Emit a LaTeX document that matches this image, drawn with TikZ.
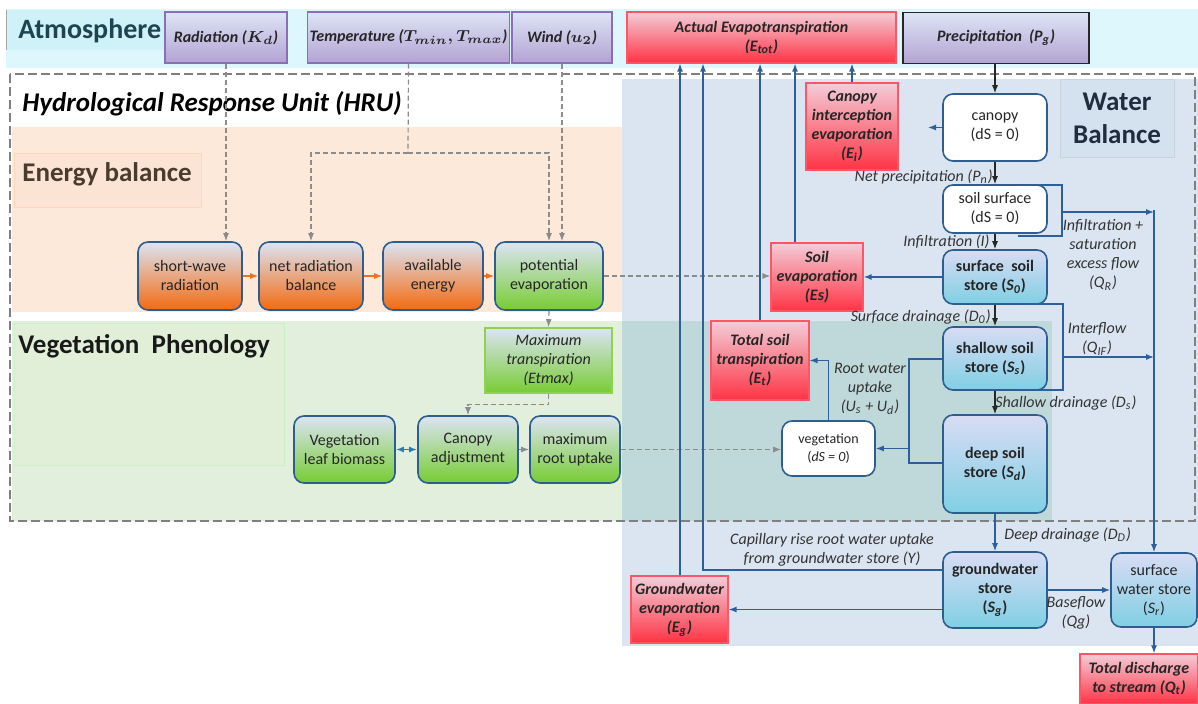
\documentclass[tikz,border=0pt]{standalone}
\usepackage{amsmath}
\usepackage{fontspec}
\setmainfont{Carlito}
\usetikzlibrary{arrows.meta}

\definecolor{bandcyan}{HTML}{DDF7FC}
\definecolor{atmlab}{HTML}{CFF2F8}
\definecolor{wbblue}{HTML}{DAE5F1}
\definecolor{wblab}{HTML}{D4E1EE}
\definecolor{orangebg}{HTML}{FDE9D9}
\definecolor{enlab}{HTML}{FCE4D5}
\definecolor{greenbg}{HTML}{E3EFDD}
\definecolor{tealbg}{HTML}{BFD8DA}
\definecolor{veglab}{HTML}{E1EFD8}
\definecolor{hrugray}{HTML}{808080}
\definecolor{atmtop}{HTML}{DDE4F6}
\definecolor{atmbot}{HTML}{B3A3D3}
\definecolor{atmline}{HTML}{8B6FB5}
\definecolor{redtop}{HTML}{F3CDD8}
\definecolor{redbot}{HTML}{FF3344}
\definecolor{redline}{HTML}{FF5566}
\definecolor{boxline}{HTML}{2E5E8E}
\definecolor{bluetop}{HTML}{DCE4F4}
\definecolor{orangebot}{HTML}{F36A10}
\definecolor{greenbot}{HTML}{77CC33}
\definecolor{greenline}{HTML}{92D050}
\definecolor{storetop}{HTML}{D8DCF4}
\definecolor{storebot}{HTML}{80CFE4}
\definecolor{flowblue}{HTML}{2F5F9A}
\definecolor{dashgray}{HTML}{8C8C8C}
\definecolor{enarrow}{HTML}{F07020}
\definecolor{textdark}{HTML}{262626}
\definecolor{labelgray}{HTML}{333333}
\definecolor{atmtext}{HTML}{1D4450}
\definecolor{entext}{HTML}{4A3C2C}
\definecolor{wbtext}{HTML}{1F2D3D}

\tikzset{
  box/.style={rectangle, inner sep=1pt, align=center, text=textdark,
    font=\fontsize{8}{9.5}\selectfont},
  atmbox/.style={box, draw=atmline, line width=0.6pt, top color=atmtop,
    bottom color=atmbot, minimum height=25.5pt,
    font=\fontsize{8}{9.5}\selectfont\bfseries\itshape},
  outbox/.style={box, draw=redline, line width=0.6pt, top color=redtop,
    bottom color=redbot, font=\fontsize{8}{9.5}\selectfont\bfseries\itshape},
  enbox/.style={box, draw=boxline, line width=0.8pt, rounded corners=5pt,
    top color=bluetop, bottom color=orangebot, minimum width=52pt,
    minimum height=34pt},
  phenobox/.style={enbox, top color=bluetop, bottom color=greenbot,
    minimum height=33.5pt},
  storebox/.style={box, draw=boxline, line width=0.8pt, rounded corners=5pt,
    top color=storetop, bottom color=storebot, minimum width=52pt,
    font=\fontsize{8}{9.5}\selectfont\bfseries},
  nullbox/.style={box, draw=boxline, line width=0.8pt, rounded corners=5pt,
    fill=white, minimum width=52pt},
  title/.style={anchor=west, inner sep=0pt, font=\fontsize{13.5}{16.5}\selectfont\bfseries},
  flowlabel/.style={inner sep=0pt, align=center, text=labelgray,
    font=\fontsize{8}{9.5}\selectfont\itshape},
  line/.style={draw=flowblue, line width=0.65pt},
  flow/.style={line, -{Latex[length=4pt,width=3pt]}},
  downflow/.style={draw=black!85, line width=0.6pt, -{Latex[length=4pt,width=3pt]}},
  dashline/.style={draw=dashgray, line width=0.6pt, dash pattern=on 2.5pt off 1.5pt},
  dashflow/.style={dashline, -{Latex[length=4pt,width=3pt]}},
  enflow/.style={draw=enarrow, line width=0.7pt, -{Latex[length=4pt,width=3pt]}},
  bothflow/.style={draw=flowblue!80!cyan, line width=0.8pt, {Latex[length=4pt,width=3pt]}-{Latex[length=4pt,width=3pt]}}
}

\begin{document}
\begin{tikzpicture}[x=0.5pt, y=-0.5pt]
  \useasboundingbox (0,0) rectangle (1198,704);
  % background panels
  \fill[bandcyan] (6,9) rectangle (1198,68);
  \fill[atmlab] (6,10) rectangle (164,50);
  \draw[black!35, line width=0.3pt] (6,10) -- (6,50);
  \fill[wbblue] (622,79) rectangle (1198,646);
  \fill[orangebg] (12,127) rectangle (622,312);
  \filldraw[fill=enlab, draw=orangebg!85!orange, line width=0.3pt] (14,153) rectangle (201,207);
  \fill[greenbg] (12,321) rectangle (622,521);
  \fill[tealbg] (622,321) rectangle (1052,521);
  \filldraw[fill=veglab, draw=greenbg!90!green, line width=0.3pt] (14,323) rectangle (284,465);
  \filldraw[fill=wblab, draw=wbblue!92!black, line width=0.3pt] (1060,79) rectangle (1174,157);
  \draw[hrugray, line width=1.2pt, dash pattern=on 4.5pt off 2pt] (10,74) rectangle (1195,521);

  % titles
  \node[title, font=\fontsize{14}{16.5}\selectfont\bfseries, text=atmtext] (tatm) at (18,31) {Atmosphere};
  \node[title, font=\fontsize{13.5}{16.5}\selectfont\bfseries\itshape] (thru) at (22,104) {Hydrological Response Unit (HRU)};
  \node[title, text=entext] (ten) at (22,174) {Energy balance};
  \node[title, text=black!90] (tveg) at (18,346) {Vegetation\ \ Phenology};
  \node[title, anchor=center, align=center, text=wbtext] (twb) at (1117,118) {Water\\Balance};

  % atmosphere
  \node[atmbox, minimum width=61pt] (rad) at (226,37.5) {Radiation ($\boldsymbol{K_d}$)};
  \node[atmbox, minimum width=94.5pt] (temp) at (408.5,37.5) {Temperature ($\boldsymbol{T_{min}, T_{max}}$)};
  \node[atmbox, minimum width=50pt] (wind) at (562,37.5) {Wind ($\boldsymbol{u_2}$)};
  \node[outbox, minimum width=134.5pt, minimum height=25.5pt] (etot) at (761.5,37.5) {Actual Evapotranspiration\\(E\textsubscript{tot})};
  \node[atmbox, draw=black!85, line width=0.8pt, minimum width=93pt] (precip) at (996,38) {Precipitation\ \ (P\textsubscript{g})};

  % energy balance
  \node[enbox] (sw) at (190,276) {short-wave\\radiation};
  \node[enbox] (netrad) at (311,276) {net radiation\\balance};
  \node[enbox, minimum width=50pt] (avail) at (433,276) {available\\energy};
  \node[enbox, bottom color=greenbot, minimum width=54pt] (pet) at (549,276) {potential\\evaporation};

  % vegetation phenology
  \node[box, draw=greenline, line width=0.8pt, top color=bluetop, bottom color=greenbot,
    minimum width=63.5pt, minimum height=32.5pt, font=\fontsize{8}{9.5}\selectfont\itshape] (etmax) at (548.5,360.5) {Maximum\\transpiration\\(Etmax)};
  \node[phenobox, minimum width=50.5pt] (leaf) at (344.5,449.5) {Vegetation\\leaf biomass};
  \node[phenobox, minimum width=50pt] (canadj) at (468,449.5) {Canopy\\adjustment};
  \node[phenobox, minimum width=45pt] (maxroot) at (575,449.5) {maximum\\root uptake};
  \node[nullbox, minimum width=46.5pt, minimum height=27.5pt,
    font=\fontsize{7}{9}\selectfont] (veg) at (828.5,448.5) {vegetation\\(\textit{dS = 0})};

  % evaporation outputs
  \node[outbox, minimum width=46pt, minimum height=43.5pt] (canint) at (852,126.5) {Canopy\\interception\\evaporation\\(E\textsubscript{i})};
  \node[outbox, minimum width=46pt, minimum height=34pt] (soilevap) at (817,277) {Soil\\evaporation\\(Es)};
  \node[outbox, minimum width=49pt, minimum height=39.5pt] (totsoil) at (760,360.5) {Total soil\\transpiration\\(E\textsubscript{t})};
  \node[outbox, minimum width=48.5pt, minimum height=33.5pt] (gwevap) at (679.5,609.5) {Groundwater\\evaporation\\(E\textsubscript{g})};
  \node[outbox, minimum width=59pt, minimum height=25pt] (discharge) at (1139,679) {Total discharge\\to stream (Q\textsubscript{t})};

  % water stores
  \node[nullbox, minimum height=33.5pt] (canopy) at (995,127.5) {canopy\\(dS = 0)};
  \node[nullbox, minimum height=24pt] (soilsurf) at (995,209) {soil surface\\(dS = 0)};
  \node[storebox, minimum height=27pt] (surfsoil) at (995,277) {surface\ \ soil\\store (\textit{S\textsubscript{0}})};
  \node[storebox, minimum height=31.5pt] (shallow) at (995,358.5) {shallow soil\\store (\textit{S\textsubscript{s}})};
  \node[storebox, minimum height=49pt] (deep) at (995,464) {deep soil\\store (\textit{S\textsubscript{d}})};
  \node[storebox, minimum height=38pt] (gw) at (995,590) {groundwater\\store\\(\textit{S\textsubscript{g}})};
  \node[storebox, minimum width=43pt, minimum height=37pt,
    font=\fontsize{8}{9.5}\selectfont] (sws) at (1154,590) {surface\\water store\\(\textit{S\textsubscript{r}})};

  % flow labels
  \node[flowlabel, anchor=east] (lnet) at (993,177) {Net precipitation (P\textsubscript{n})};
  \node[flowlabel, anchor=east] (linf) at (990,242) {Infiltration (I)};
  \node[flowlabel, anchor=east] (lsurf) at (991,317) {Surface drainage (D\textsubscript{0})};
  \node[flowlabel, anchor=west] (lshal) at (995,403) {Shallow drainage (D\textsubscript{s})};
  \node[flowlabel, anchor=west] (ldeep) at (1004,535) {Deep drainage (D\textsubscript{D})};
  \node[flowlabel] (lcap) at (832,550) {Capillary rise root water uptake\\from groundwater store (Y)};
  \node[flowlabel] (lbase) at (1076,613) {Baseflow\\(Qg)};
  \node[flowlabel] (lqr) at (1103,255) {Infiltration +\\saturation\\excess flow\\(Q\textsubscript{R})};
  \node[flowlabel] (lif) at (1097,339) {Interflow\\(Q\textsubscript{IF})};
  \node[flowlabel] (lroot) at (870,389) {Root water\\uptake\\(U\textsubscript{s} + U\textsubscript{d})};

  % atmosphere forcing
  \coordinate (tsplit) at (408,153);
  \draw[dashflow] (rad.south) -- (rad.south |- sw.north);
  \draw[dashline] (temp.south) -- (tsplit);
  \draw[dashflow] (tsplit) -| (netrad.north);
  \draw[dashflow] (tsplit) -| (pet.north);
  \draw[dashflow] (wind.south) -- (wind.south |- pet.north);

  % energy and vegetation links
  \draw[enflow] (sw) -- (netrad);
  \draw[enflow] (netrad) -- (avail);
  \draw[enflow] (avail) -- (pet);
  \draw[dashflow] (pet.east) -- (pet.east -| soilevap.west);
  \draw[dashflow] (pet.south) -- (etmax.north);
  \draw[dashflow] (etmax.south) -- ++(0,11) -| (canadj.north);
  \draw[bothflow] (leaf) -- (canadj);
  \draw[dashflow] (canadj) -- (maxroot);
  \draw[dashflow] (maxroot.east) -- (maxroot.east -| veg.west);

  % vertical water chain
  \draw[downflow] (canopy.north |- precip.south) -- (canopy.north);
  \draw[downflow] (canopy) -- (soilsurf);
  \draw[downflow] (soilsurf) -- (surfsoil);
  \draw[downflow] (surfsoil) -- (shallow);
  \draw[downflow] (shallow) -- (deep);
  \draw[flow] (deep) -- (gw);

  % evaporation fluxes
  \coordinate (cintend) at (928,127.5);
  \coordinate (x795) at (795,0);
  \coordinate (capbend) at (703,570);
  \draw[flow] (canopy.west) -- (cintend);
  \draw[flow] (canint.north) -- (canint.north |- etot.south);
  \draw[flow] (soilevap.north -| x795) -- (etot.south -| x795);
  \draw[flow] (totsoil.north) -- (totsoil.north |- etot.south);
  \draw[flow] ([xshift=0.25pt]gwevap.north) -- ([xshift=0.25pt]gwevap.north |- etot.south);
  \draw[flow] (capbend -| gw.west) -- (capbend) -- (capbend |- etot.south);
  \draw[flow] (surfsoil) -- (soilevap);
  \draw[flow] (gw.west |- gwevap.east) -- (gwevap.east);

  % root water uptake
  \coordinate (roottop) at (909,359);
  \coordinate (rootbot) at (909,463);
  \draw[line] (roottop -| shallow.west) -- (roottop) -- (rootbot) -- (rootbot -| deep.west);
  \draw[flow] (roottop |- veg.east) -- (veg.east);
  \draw[flow] (veg.north) |- (totsoil.east);

  % lateral flows
  \coordinate (qrtl) at (1018,185);
  \coordinate (qrtr) at (1062,185);
  \coordinate (qrbr) at (1062,236);
  \coordinate (qrbl) at (1018,236);
  \coordinate (qrout) at (1062,212);
  \coordinate (sidetop) at (1154,210);
  \coordinate (iftl) at (1018,304);
  \coordinate (iftr) at (1063,304);
  \coordinate (ifbr) at (1063,390);
  \coordinate (ifbl) at (1020,390);
  \coordinate (ifout) at (1063,357);
  \draw[line] (qrtl) -- (qrtr) -- (qrbr) -- (qrbl);
  \draw[flow] (qrout) -- (qrout -| sidetop);
  \draw[line] (iftl) -- (iftr) -- (ifbr) -- (ifbl);
  \draw[flow] (ifout) -- (ifout -| sidetop);
  \draw[flow] (sidetop) -- (sws.north);
  \draw[flow] (gw) -- (sws);
  \draw[flow] (sws.south) -- (sws.south |- discharge.north);
\end{tikzpicture}
\end{document}
